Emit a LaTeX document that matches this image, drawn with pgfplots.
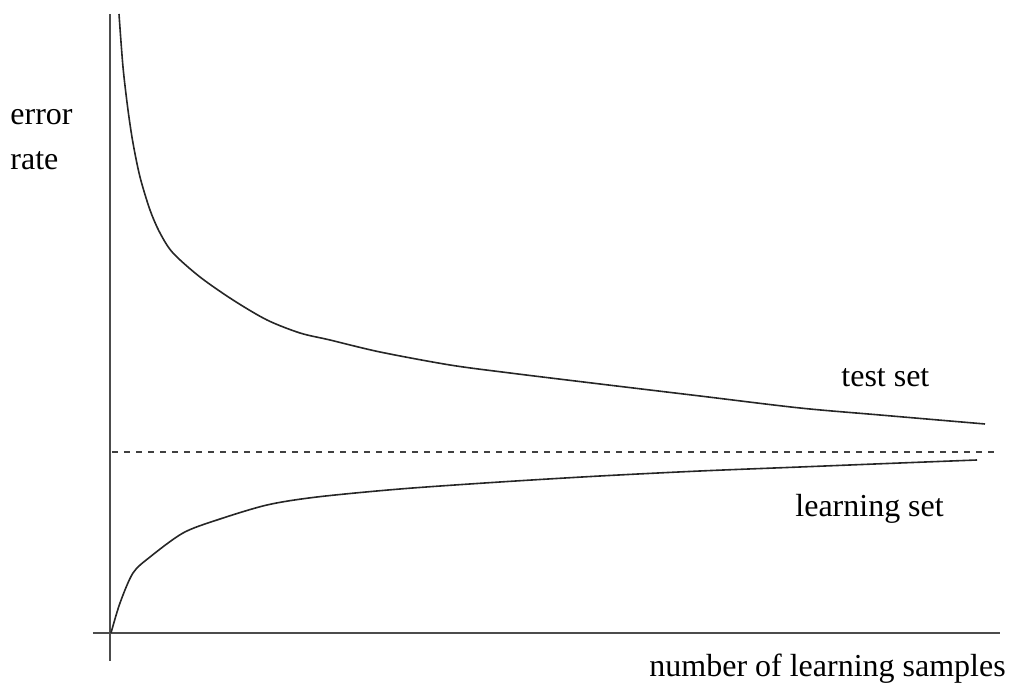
\documentclass[border=0pt]{standalone}
\usepackage{pgfplots}
\pgfplotsset{compat=1.18}
\usepackage{fontspec}
\setmainfont{Liberation Serif}
\begin{document}
\begin{tikzpicture}[font=\fontsize{16}{22}\selectfont]
  \begin{axis}[
      scale only axis,
      width=453.5pt, height=323.5pt,
      xmin=-17, xmax=890, ymin=-28, ymax=619,
      axis lines=middle,
      axis line style={-, line width=0.8pt, black!70},
      ticks=none,
      clip=false,
    ]
    % test set
    \addplot[smooth, line width=0.8pt, black!85] coordinates {
      (9,619) (13,566) (18,523) (23,490) (30,456) (40,423) (50,400)
      (63,380) (90,356) (123,333) (157,313) (190,300) (220,293)
      (270,281) (340,268) (400,260) (490,249) (590,237) (690,225)
      (770,218) (875,209)};
    % learning set
    \addplot[smooth, line width=0.8pt, black!85] coordinates {
      (1,0) (10,30) (23,60) (40,76) (73,100) (107,113) (157,128)
      (207,136) (290,144) (390,151) (490,157) (590,162) (690,166)
      (790,170) (867,173)};
    % limit
    \addplot[dashed, line width=0.7pt, black!75] coordinates {(2,181) (887,181)};

    \node[anchor=base west, inner sep=0] at (axis cs:-100,508) {error};
    \node[anchor=base west, inner sep=0] at (axis cs:-100,463) {rate};
    \node[anchor=base west, inner sep=0] at (axis cs:731,246) {test set};
    \node[anchor=base west, inner sep=0] at (axis cs:685,116) {learning set};
    \node[anchor=base west, inner sep=0] at (axis cs:539,-44) {number of learning samples};

    \coordinate (bl) at (axis cs:-110,-51);
    \coordinate (tr) at (axis cs:907,633);
  \end{axis}
  \useasboundingbox (bl) rectangle (tr);
\end{tikzpicture}
\end{document}
